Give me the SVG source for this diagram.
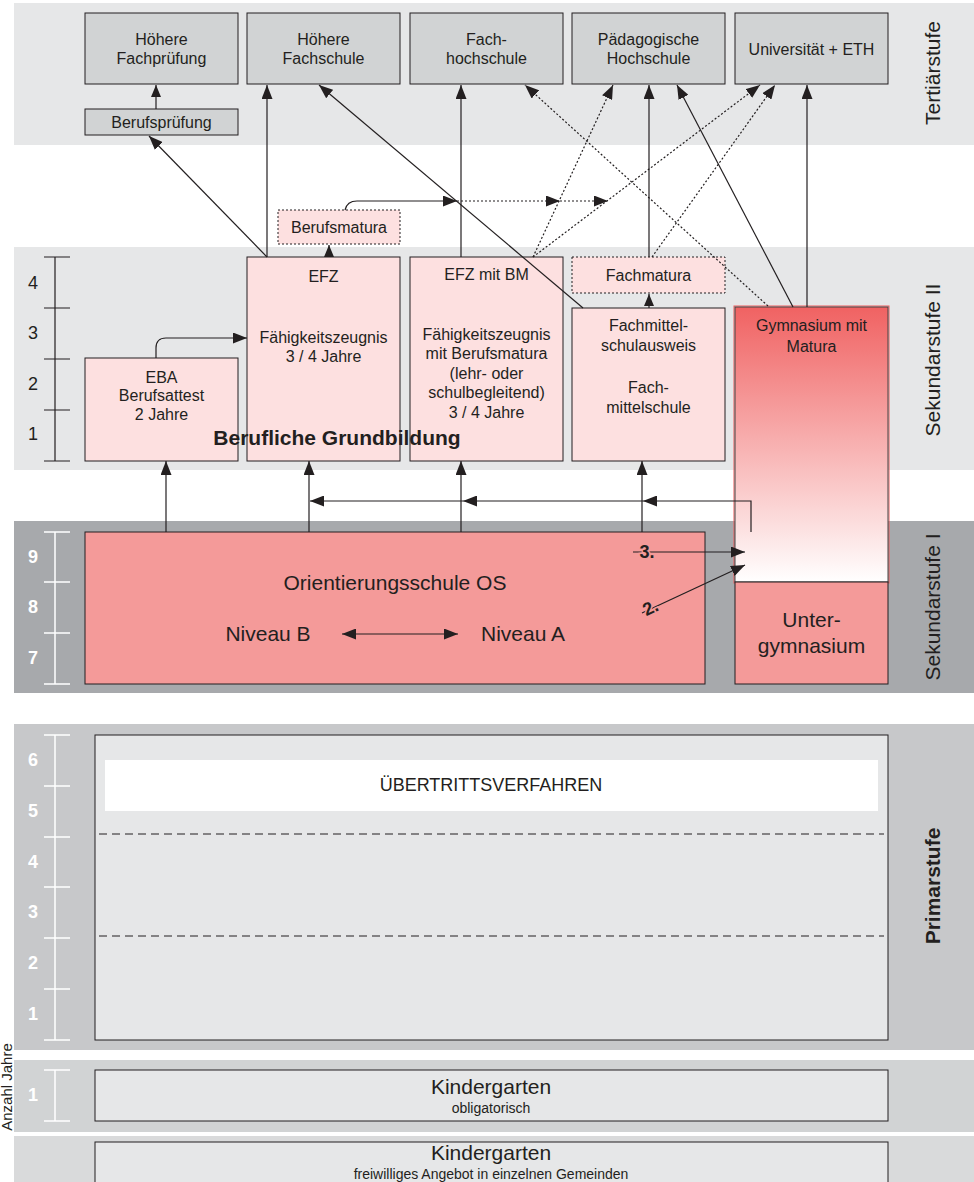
<svg xmlns="http://www.w3.org/2000/svg" width="974" height="1182" viewBox="0 0 974 1182">
<style>
text{font-family:"Liberation Sans",Arial,sans-serif;fill:#231f20}
.t16{font-size:16px;text-anchor:middle}
.t21{font-size:21px;text-anchor:middle}
.t14{font-size:14px;text-anchor:middle}
.lbl{font-size:21px;text-anchor:middle}
.num{font-size:18px;text-anchor:middle}
.wnum{font-size:18px;font-weight:bold;text-anchor:middle;fill:#fff}
.tert{fill:#d1d3d4;stroke:#231f20;stroke-width:1}
.pink{fill:#fde0e0;stroke:#231f20;stroke-width:1}
.pinkd{fill:#fde0e0;stroke:#231f20;stroke-width:1;stroke-dasharray:2 2}
.os{fill:#f49a99;stroke:#231f20;stroke-width:1}
.prim{fill:#e6e7e8;stroke:#231f20;stroke-width:1}
.c{fill:none;stroke:#231f20;stroke-width:1.2}
.cd{fill:none;stroke:#231f20;stroke-width:1.2;stroke-dasharray:2 2}
.sc{fill:none;stroke:#231f20;stroke-width:1.2}
.scw{fill:none;stroke:#fff;stroke-width:1.5}
</style>
<defs>
<marker id="ah" markerUnits="userSpaceOnUse" markerWidth="15" markerHeight="11" refX="14" refY="5.5" orient="auto">
<path d="M0,0 L14,5.5 L0,11 z" fill="#231f20"/>
</marker>
<marker id="ahr" markerUnits="userSpaceOnUse" markerWidth="15" markerHeight="11" refX="14" refY="5.5" orient="auto-start-reverse">
<path d="M0,0 L14,5.5 L0,11 z" fill="#231f20"/>
</marker>
<marker id="ahs" markerUnits="userSpaceOnUse" markerWidth="13" markerHeight="10" refX="12" refY="5" orient="auto">
<path d="M0,0 L12,5 L0,10 z" fill="#231f20"/>
</marker>
<linearGradient id="gym" x1="0" y1="0" x2="0" y2="1">
<stop offset="0" stop-color="#f06262"/>
<stop offset="1" stop-color="#ffffff"/>
</linearGradient>
</defs>

<g id="bands">
<rect x="14" y="3" width="960" height="142" fill="#e6e7e8"/>
<rect x="14" y="247" width="960" height="223" fill="#e6e7e8"/>
<rect x="14" y="521" width="960" height="172" fill="#a7a9ac"/>
<rect x="14" y="724" width="960" height="326" fill="#c7c8ca"/>
<rect x="14" y="1060" width="960" height="72" fill="#d1d3d4"/>
<rect x="14" y="1136" width="960" height="46" fill="#d9dadb"/>
<text class="lbl" transform="translate(940,73) rotate(-90)">Tertiärstufe</text>
<text class="lbl" transform="translate(940,360) rotate(-90)">Sekundarstufe II</text>
<text class="lbl" transform="translate(940,607) rotate(-90)">Sekundarstufe I</text>
<text class="lbl" transform="translate(940,886) rotate(-90)" style="font-weight:bold">Primarstufe</text>
<text transform="translate(12,1087) rotate(-90)" style="font-size:15px;text-anchor:middle">Anzahl Jahre</text>
</g>

<g id="scales">
<path class="sc" d="M55,257V461M44,257H70M44,308H70M44,359H70M44,410H70M44,461H70"/>
<text class="num" x="33" y="289">4</text>
<text class="num" x="33" y="339">3</text>
<text class="num" x="33" y="390">2</text>
<text class="num" x="33" y="440">1</text>
<path class="scw" d="M55,532V684M44,532H70M44,582H70M44,633H70M44,684H70"/>
<text class="wnum" x="33" y="563">9</text>
<text class="wnum" x="33" y="613">8</text>
<text class="wnum" x="33" y="664">7</text>
<path class="scw" d="M55,735V1040M44,735H70M44,786H70M44,837H70M44,887H70M44,938H70M44,989H70M44,1040H70"/>
<text class="wnum" x="33" y="766">6</text>
<text class="wnum" x="33" y="817">5</text>
<text class="wnum" x="33" y="868">4</text>
<text class="wnum" x="33" y="918">3</text>
<text class="wnum" x="33" y="969">2</text>
<text class="wnum" x="33" y="1020">1</text>
<path class="scw" d="M55,1070V1121M44,1070H70M44,1121H70"/>
<text class="wnum" x="33" y="1101">1</text>
</g>

<g id="hoehere-fachpruefung"><rect class="tert" x="85" y="13" width="153" height="71"/>
<text class="t16" x="161.5" y="45">Höhere</text><text class="t16" x="161.5" y="64">Fachprüfung</text></g>
<g id="hoehere-fachschule"><rect class="tert" x="247" y="13" width="153" height="71"/>
<text class="t16" x="323.5" y="45">Höhere</text><text class="t16" x="323.5" y="64">Fachschule</text></g>
<g id="fachhochschule"><rect class="tert" x="410" y="13" width="153" height="71"/>
<text class="t16" x="486.5" y="45">Fach-</text><text class="t16" x="486.5" y="64">hochschule</text></g>
<g id="paed-hochschule"><rect class="tert" x="572" y="13" width="153" height="71"/>
<text class="t16" x="648.5" y="45">Pädagogische</text><text class="t16" x="648.5" y="64">Hochschule</text></g>
<g id="universitaet"><rect class="tert" x="735" y="13" width="153" height="71"/>
<text class="t16" x="811.5" y="55">Universität + ETH</text></g>
<g id="berufspruefung"><rect class="tert" x="85" y="109" width="153" height="26"/>
<text class="t16" x="161.5" y="128">Berufsprüfung</text></g>

<g id="berufsmatura"><rect class="pinkd" x="278" y="210" width="122" height="34"/>
<text class="t16" x="339" y="233">Berufsmatura</text></g>

<g id="eba"><rect class="pink" x="85" y="358" width="153" height="103"/>
<text class="t16" x="161.5" y="383">EBA</text><text class="t16" x="161.5" y="401">Berufsattest</text><text class="t16" x="161.5" y="420">2 Jahre</text></g>
<g id="efz"><rect class="pink" x="247" y="257" width="153" height="204"/>
<text class="t16" x="323.5" y="282">EFZ</text><text class="t16" x="323.5" y="343">Fähigkeitszeugnis</text><text class="t16" x="323.5" y="362">3 / 4 Jahre</text></g>
<g id="efz-bm"><rect class="pink" x="410" y="257" width="153" height="204"/>
<text class="t16" x="486.5" y="280">EFZ mit BM</text><text class="t16" x="486.5" y="340">Fähigkeitszeugnis</text><text class="t16" x="486.5" y="359">mit Berufsmatura</text><text class="t16" x="486.5" y="379">(lehr- oder</text><text class="t16" x="486.5" y="398">schulbegleitend)</text><text class="t16" x="486.5" y="418">3 / 4 Jahre</text></g>
<g id="fachmatura"><rect class="pinkd" x="572" y="257" width="153" height="36"/>
<text class="t16" x="648.5" y="281">Fachmatura</text></g>
<g id="fachmittelschule"><rect class="pink" x="572" y="308" width="153" height="153"/>
<text class="t16" x="648.5" y="331">Fachmittel-</text><text class="t16" x="648.5" y="351">schulausweis</text><text class="t16" x="648.5" y="393">Fach-</text><text class="t16" x="648.5" y="413">mittelschule</text></g>
<g id="gymnasium"><rect x="734" y="306" width="155" height="277" fill="none" stroke="#ef5a5a" stroke-width="1"/>
<rect x="735" y="307" width="153" height="275" fill="url(#gym)" stroke="#444" stroke-width="1"/>
<text class="t16" x="811.5" y="331">Gymnasium mit</text><text class="t16" x="811.5" y="352">Matura</text></g>
<g id="berufliche-grundbildung"><text x="337" y="445" style="font-size:21px;font-weight:bold;text-anchor:middle">Berufliche Grundbildung</text></g>

<g id="orientierungsschule"><rect class="os" x="85" y="532" width="620" height="152"/>
<text class="t21" x="395" y="590">Orientierungsschule OS</text>
<text class="t21" x="268" y="641">Niveau B</text>
<text class="t21" x="523" y="641">Niveau A</text></g>
<g id="untergymnasium"><rect class="os" x="735" y="582" width="153" height="102"/>
<text class="t21" x="811.5" y="627">Unter-</text><text class="t21" x="811.5" y="653">gymnasium</text></g>

<g id="primarstufe"><rect class="prim" x="95" y="735" width="793" height="305"/>
<rect x="105" y="760" width="773" height="51" fill="#fff"/>
<text x="491" y="791" style="font-size:18px;text-anchor:middle">ÜBERTRITTSVERFAHREN</text>
<path d="M99,834H884M99,936H884" fill="none" stroke="#231f20" stroke-width="1" stroke-dasharray="8 5"/></g>
<g id="kindergarten-obl"><rect class="prim" x="95" y="1070" width="793" height="51"/>
<text class="t21" x="491" y="1094">Kindergarten</text><text class="t14" x="491" y="1113">obligatorisch</text></g>
<g id="kindergarten-frei"><rect class="prim" x="95" y="1142" width="793" height="45"/>
<text class="t21" x="491" y="1160">Kindergarten</text><text class="t14" x="491" y="1179">freiwilliges Angebot in einzelnen Gemeinden</text></g>

<g id="connectors">
<line class="c" x1="156" y1="109" x2="156" y2="85" marker-end="url(#ahs)"/>
<line class="c" x1="267" y1="257" x2="149" y2="136" marker-end="url(#ah)"/>
<line class="c" x1="267" y1="257" x2="267" y2="85" marker-end="url(#ah)"/>
<line class="c" x1="583" y1="308" x2="319" y2="85" marker-end="url(#ah)"/>
<line class="c" x1="461" y1="257" x2="461" y2="85" marker-end="url(#ah)"/>
<line class="c" x1="329" y1="257" x2="329" y2="245" marker-end="url(#ahs)"/>
<path class="c" d="M345,210 Q347,201 357,201 H457" marker-end="url(#ah)"/>
<line class="cd" x1="457" y1="201" x2="560" y2="201" marker-end="url(#ah)"/>
<line class="cd" x1="560" y1="201" x2="608" y2="201" marker-end="url(#ah)"/>
<line class="cd" x1="533" y1="257" x2="613" y2="85" marker-end="url(#ah)"/>
<line class="cd" x1="533" y1="257" x2="760" y2="85" marker-end="url(#ah)"/>
<line class="cd" x1="652" y1="257" x2="775" y2="85" marker-end="url(#ah)"/>
<line class="cd" x1="768" y1="306" x2="525" y2="85" marker-end="url(#ah)"/>
<line class="c" x1="793" y1="307" x2="677" y2="85" marker-end="url(#ah)"/>
<line class="c" x1="807" y1="307" x2="807" y2="85" marker-end="url(#ah)"/>
<line class="c" x1="649" y1="257" x2="649" y2="85" marker-end="url(#ah)"/>
<line class="c" x1="649" y1="308" x2="649" y2="294" marker-end="url(#ahs)"/>
<path class="c" d="M156,358 V348 Q156,338 166,338 H247" marker-end="url(#ah)"/>
<line class="c" x1="166" y1="532" x2="166" y2="461" marker-end="url(#ah)"/>
<line class="c" x1="309" y1="532" x2="309" y2="461" marker-end="url(#ah)"/>
<line class="c" x1="461" y1="532" x2="461" y2="461" marker-end="url(#ah)"/>
<line class="c" x1="642" y1="532" x2="642" y2="461" marker-end="url(#ah)"/>
<path class="c" d="M751,532 V501 H643" marker-end="url(#ah)"/>
<line class="c" x1="643" y1="501" x2="463" y2="501" marker-end="url(#ah)"/>
<line class="c" x1="463" y1="501" x2="310" y2="501" marker-end="url(#ah)"/>
<line class="c" x1="342" y1="634" x2="458" y2="634" marker-start="url(#ahr)" marker-end="url(#ahr)"/>
<line class="c" x1="633" y1="552" x2="745" y2="552" marker-end="url(#ah)"/>
<line class="c" x1="642" y1="613" x2="745" y2="565" marker-end="url(#ah)"/>
</g>
<g id="step-labels">
<text x="647" y="558" style="font-size:18px;font-weight:bold;text-anchor:middle;stroke:#f49a99;stroke-width:3;paint-order:stroke">3.</text>
<text transform="translate(653,613) rotate(-25)" style="font-size:18px;font-weight:bold;text-anchor:middle;stroke:#f49a99;stroke-width:3;paint-order:stroke">2.</text>
</g>
</svg>
